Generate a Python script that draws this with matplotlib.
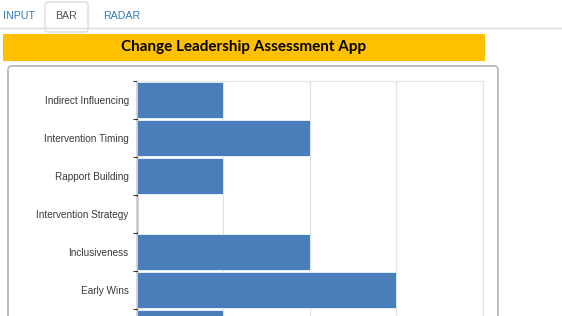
import matplotlib.pyplot as plt
from matplotlib.patches import Rectangle, FancyBboxPatch

# chart data
categories = ['Indirect Influencing', 'Intervention Timing', 'Rapport Building',
              'Intervention Strategy', 'Inclusiveness', 'Early Wins', '']
scores = [1, 2, 1, 0, 2, 3, 1]
tabs = ['INPUT', 'BAR', 'RADAR']
title = 'Change Leadership Assessment App'

W, H = 562, 316
fig = plt.figure(figsize=(W / 100, H / 100), dpi=100)
fig.patch.set_facecolor('white')

# page background in pixel coordinates
bg = fig.add_axes([0, 0, 1, 1], zorder=0)
bg.set_xlim(0, W)
bg.set_ylim(H, 0)
bg.axis('off')

# tab strip
bg.plot([0, W], [28, 28], color='#dddddd', lw=1)
bg.add_patch(FancyBboxPatch((45, 2), 43, 30, boxstyle='round,pad=0,rounding_size=3',
                            fc='white', ec='#dddddd', lw=1))
tab_x = [19, 66, 122]
for name, x in zip(tabs, tab_x):
    bg.text(x, 16, name, ha='center', va='center', fontsize=7.7,
            family='Liberation Sans',
            color='#555555' if name == 'BAR' else '#337ab7')

# yellow title banner
bg.add_patch(Rectangle((3, 34), 482, 27, fc='#ffc000', ec='none'))
bg.text(244, 47.5, title, ha='center', va='center', fontsize=11,
        family='Lato', weight='bold', color='black')

# panel around the chart
bg.add_patch(FancyBboxPatch((8, 66), 490, 300, boxstyle='round,pad=0,rounding_size=4',
                            fc='white', ec='#bdbdbd', lw=1.4))

# chart area: left 137px, value 4 at 483px, first row top at 81px, rows 38px
row = 38
top_px = 81
nrows = len(categories)
left, right = 137 / W, 483 / W
bottom_px = top_px + nrows * row
ax = fig.add_axes([left, 1 - bottom_px / H, right - left, nrows * row / H], zorder=1)

ypos = list(range(nrows))
ax.barh(ypos, scores, height=0.93, color='#4a7ebb', edgecolor='white', lw=0.5, zorder=3)
ax.set_xlim(0, 4)
ax.set_ylim(nrows - 0.5, -0.5)

ax.set_xticks([1, 2, 3, 4])
ax.xaxis.grid(True, color='#e2e2e2', lw=0.9, zorder=0)
ax.tick_params(axis='x', length=0, labelbottom=False)

ax.set_yticks(ypos)
ax.set_yticklabels(categories, family='Liberation Sans', fontsize=7.2, color='#3a3a3a')
ax.set_yticks([i - 0.5 for i in range(nrows + 1)], minor=True)
ax.tick_params(axis='y', which='major', length=0, pad=6)
ax.tick_params(axis='y', which='minor', length=3, width=0.8, color='#333333')

for side in ['top', 'right']:
    ax.spines[side].set_color('#e6e6e6')
ax.spines['bottom'].set_visible(False)
ax.spines['left'].set_color('#333333')
ax.spines['left'].set_linewidth(1)

fig.savefig('out.png', dpi=100)
